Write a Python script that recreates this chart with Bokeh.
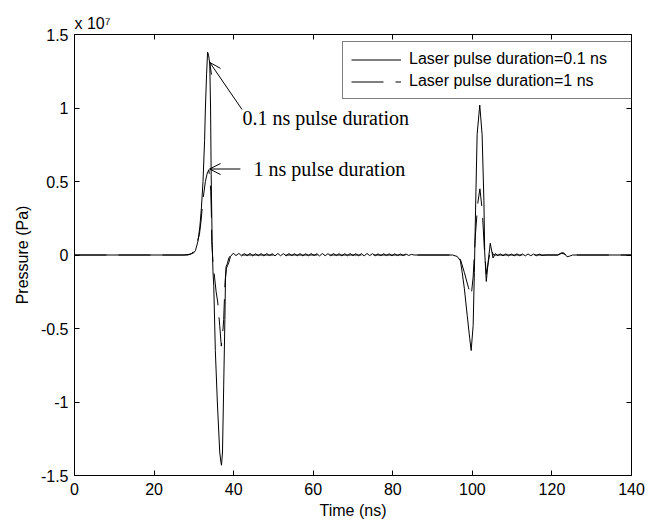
from bokeh.plotting import figure
from bokeh.models import (Range1d, FixedTicker, LinearAxis, Label, Arrow, OpenHead,
                          Legend, LegendItem)
from bokeh.embed import file_html
from bokeh.resources import INLINE

# ---------------- data (pressure in units of 1e7 Pa, time in ns) ----------------
# Laser pulse duration = 0.1 ns : first pulse
t01_pulse1 = [0, 27.5, 29.0, 30.0, 30.4, 31.0, 31.5, 31.9, 32.3, 32.7, 32.9, 33.2, 33.45, 33.7,
              34.0, 34.2, 34.35, 34.6, 34.8, 35.0, 35.4, 35.9, 36.5, 36.8, 36.95, 37.2, 37.5,
              37.8, 37.95, 38.2, 38.5, 38.8, 39.2]
p01_pulse1 = [0, 0, 0.005, 0.015, 0.03, 0.09, 0.19, 0.32, 0.5, 0.78, 1.0, 1.23, 1.38, 1.36,
              1.3, 1.0, 0.55, 0.09, -0.11, -0.21, -0.65, -1.0, -1.34, -1.41, -1.43, -1.34, -0.89,
              -0.44, -0.16, -0.09, -0.07, -0.05, -0.01]
# small ringing after the first pulse
t01_ring1 = [39.9, 40.6, 41.3, 42.0, 42.7, 43.4, 44.1, 44.8, 45.5, 46.2, 46.9, 47.6, 48.3, 49.0,
             49.7, 50.4, 51.1, 51.8, 52.5, 53.2, 53.9, 54.6, 55.3, 56.0, 56.7, 57.4, 58.1, 58.8,
             59.5, 60.2, 60.9, 61.6, 62.3, 63.0, 63.7, 64.4, 65.1, 65.8, 66.5, 67.2, 67.9, 68.6,
             69.3, 70.0, 70.7, 71.4, 72.1, 72.8, 73.5, 74.2, 74.9, 75.6, 76.3, 77.0, 77.7, 78.4,
             79.1, 79.8, 80.5, 81.2, 81.9, 82.6, 83.3, 84.0, 84.7]
p01_ring1 = [0.012, -0.004, 0.011, -0.006, 0.010, -0.005, 0.011, -0.006, 0.009, -0.005, 0.010,
             -0.006, 0.010, -0.004, 0.009, -0.006, 0.010, -0.005, 0.009, -0.006, 0.010, -0.004,
             0.009, -0.005, 0.010, -0.006, 0.009, -0.005, 0.010, -0.004, 0.009, -0.006, 0.010,
             -0.005, 0.009, -0.005, 0.010, -0.004, 0.009, -0.006, 0.009, -0.005, 0.010, -0.004,
             0.009, -0.005, 0.009, -0.006, 0.010, -0.004, 0.009, -0.005, 0.008, -0.005, 0.009,
             -0.004, 0.008, -0.005, 0.008, -0.004, 0.007, -0.004, 0.007, -0.003, 0.004]
# second pulse (reflection)
t01_pulse2 = [85.4, 95.0, 96.2, 97.0, 97.4, 98.0, 98.7, 99.35, 99.7, 100.2, 100.5, 100.8, 101.2,
              101.86, 102.45, 102.9, 103.1, 103.5, 104.0, 104.5, 105.2, 105.8, 106.4]
p01_pulse2 = [0, 0, -0.01, -0.04, -0.11, -0.23, -0.41, -0.57, -0.65, -0.48, -0.12, 0.3, 0.82,
              1.02, 0.82, 0.37, 0.02, -0.18, -0.04, 0.08, -0.02, 0.01, -0.005]
t01_ring2 = [107.0, 107.7, 108.4, 109.1, 109.8, 110.5, 111.2, 111.9, 112.6, 113.3, 114.0, 114.7,
             115.4, 116.1, 116.8, 117.5]
p01_ring2 = [0.008, -0.006, 0.008, -0.006, 0.007, -0.006, 0.008, -0.005, 0.007, -0.006, 0.007,
             -0.005, 0.007, -0.005, 0.006, -0.003]
t01_tail = [118.5, 121.5, 122.2, 122.8, 123.3, 123.8, 124.4, 125.2, 140]
p01_tail = [0, 0, 0.012, 0.016, 0.006, -0.012, -0.008, 0, 0]

# Laser pulse duration = 1 ns
t1 = [0, 28.5, 29.5, 30.3, 30.8, 31.4, 31.8, 32.3, 32.9, 33.3, 33.75, 34.05, 34.25, 34.4, 34.5,
      34.8, 35.2, 35.6, 36.0, 36.5, 36.9, 37.2, 37.5, 37.8, 38.1, 38.4, 38.8, 39.3, 96.0, 97.0,
      98.0, 99.0, 99.7, 100.2, 100.8, 101.4, 101.9, 102.5, 103.0, 103.5, 104.0, 104.6, 105.3,
      106.0, 121.5, 122.5, 123.3, 124.0, 125.0, 140]
p1 = [0, 0, 0.01, 0.04, 0.08, 0.14, 0.23, 0.38, 0.5, 0.55, 0.58, 0.52, 0.43, 0.28, 0.09,
      -0.05, -0.15, -0.25, -0.32, -0.48, -0.62, -0.55, -0.44, -0.21, -0.08, -0.06, -0.02, 0, 0,
      -0.03, -0.12, -0.22, -0.28, -0.15, 0.15, 0.36, 0.45, 0.3, 0.05, -0.13, -0.05, 0.05, 0.0,
      0, 0, 0.012, 0.005, -0.01, 0, 0]

x_ticks = [0, 20, 40, 60, 80, 100, 120, 140]
x_tick_labels = ["0", "20", "40", "60", "80", "100", "120", "140"]
y_ticks = [-1.5, -1, -0.5, 0, 0.5, 1, 1.5]
y_tick_labels = ["-1.5", "-1", "-0.5", "0", "0.5", "1", "1.5"]

series_labels = ["Laser pulse duration=0.1 ns", "Laser pulse duration=1 ns"]
exponent_text = "x 10\u2077"

# annotations: (text, text x, text y, arrow start x, start y, arrow end x, end y)
annot_texts = ["0.1 ns pulse duration", "1 ns pulse duration"]
annot_text_x = [42.2, 45.0]
annot_text_y = [0.93, 0.585]
arrow_x0 = [42.1, 41.7]
arrow_y0 = [0.99, 0.585]
arrow_x1 = [34.0, 33.95]
arrow_y1 = [1.31, 0.585]

t01 = t01_pulse1 + t01_ring1 + t01_pulse2 + t01_ring2 + t01_tail
p01 = p01_pulse1 + p01_ring1 + p01_pulse2 + p01_ring2 + p01_tail

# ---------------- figure ----------------
SANS = "Liberation Sans"
SERIF = "Liberation Serif"

p = figure(width=645, height=523, output_backend="svg", toolbar_location=None,
           x_range=Range1d(0, 140), y_range=Range1d(-1.5, 1.5),
           min_border_left=74, min_border_right=14, min_border_top=34, min_border_bottom=48)
p.grid.visible = False
p.background_fill_color = "white"
p.border_fill_color = "white"
p.outline_line_color = "black"
p.outline_line_width = 1

p.title.text = exponent_text
p.title.align = "left"
p.title.offset = 0
p.title.standoff = 5
p.title.text_font = SANS
p.title.text_font_size = "16px"
p.title.text_font_style = "normal"
p.title.text_color = "black"


def style_axis(ax, ticks, labels, show_labels=True):
    ax.ticker = FixedTicker(ticks=ticks)
    ax.major_label_overrides = {t: (l if show_labels else "") for t, l in zip(ticks, labels)}
    ax.axis_line_color = "black"
    ax.major_tick_line_color = "black"
    ax.major_tick_in = 5
    ax.major_tick_out = 0
    ax.minor_tick_line_color = None
    ax.major_label_text_font = SANS
    ax.major_label_text_font_size = "16px" if show_labels else "0px"
    ax.major_label_text_color = "black"
    ax.axis_label_text_font = SANS
    ax.axis_label_text_font_size = "16px"
    ax.axis_label_text_font_style = "normal"
    ax.axis_label_text_color = "black"
    if not show_labels:
        ax.major_label_standoff = 0


style_axis(p.xaxis[0], x_ticks, x_tick_labels)
style_axis(p.yaxis[0], y_ticks, y_tick_labels)
p.xaxis[0].axis_label = "Time (ns)"
p.yaxis[0].axis_label = "Pressure (Pa)"
p.xaxis[0].major_label_standoff = 7
p.xaxis[0].axis_label_standoff = 4
p.yaxis[0].major_label_standoff = 6
p.yaxis[0].axis_label_standoff = 7

top_ax = LinearAxis()
style_axis(top_ax, x_ticks, x_tick_labels, show_labels=False)
p.add_layout(top_ax, "above")
right_ax = LinearAxis()
style_axis(right_ax, y_ticks, y_tick_labels, show_labels=False)
p.add_layout(right_ax, "right")

r1 = p.line(t1, p1, line_color="black", line_width=1, line_dash="32 12")
r01 = p.line(t01, p01, line_color="black", line_width=1)

legend = Legend(items=[LegendItem(label=series_labels[0], renderers=[r01]),
                       LegendItem(label=series_labels[1], renderers=[r1])],
                location=(268, 376), orientation="vertical",
                label_text_font=SANS, label_text_font_size="16px", label_text_color="black",
                glyph_width=50, glyph_height=17, label_height=17, label_width=214,
                label_standoff=8, spacing=4, padding=8, margin=0,
                border_line_color="black", border_line_width=1,
                background_fill_color="white", background_fill_alpha=1)
p.add_layout(legend)

for i in range(2):
    p.add_layout(Arrow(end=OpenHead(size=11, line_width=1, line_color="black"),
                       x_start=arrow_x0[i], y_start=arrow_y0[i],
                       x_end=arrow_x1[i], y_end=arrow_y1[i],
                       line_color="black", line_width=1))
    p.add_layout(Label(x=annot_text_x[i], y=annot_text_y[i], text=annot_texts[i],
                       text_font=SERIF, text_font_size="20px", text_baseline="middle",
                       text_color="black"))

open("out.html", "w").write(file_html(p, INLINE))
